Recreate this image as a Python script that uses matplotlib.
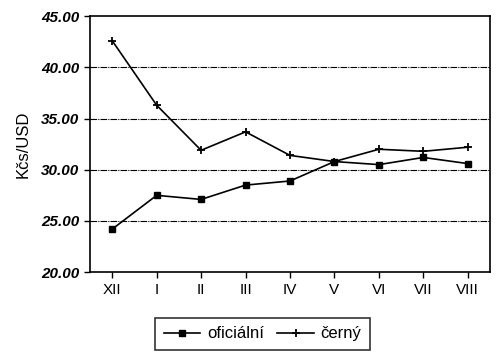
import matplotlib.pyplot as plt

months = ['XII', 'I', 'II', 'III', 'IV', 'V', 'VI', 'VII', 'VIII']
oficialni = [24.2, 27.5, 27.1, 28.5, 28.9, 30.8, 30.5, 31.2, 30.6]
cerny = [42.6, 36.3, 31.9, 33.7, 31.4, 30.8, 32.0, 31.8, 32.2]
y_ticks = [20, 25, 30, 35, 40, 45]

plt.rcParams['font.family'] = ['Liberation Sans', 'DejaVu Sans']

fig = plt.figure(figsize=(5, 3.59), dpi=100)
ax = fig.add_axes([0.18, 0.242, 0.80, 0.713])

x = range(len(months))
ax.plot(x, oficialni, color='black', linewidth=1.2, marker='s', markersize=5, label='oficiální')
ax.plot(x, cerny, color='black', linewidth=1.2, marker='+', markersize=6, markeredgewidth=1.3, label='černý')

for y in y_ticks[1:-1]:
    ax.axhline(y, color='black', linewidth=0.8, linestyle=(0, (6, 1, 1, 1)), zorder=0)

ax.set_xlim(-0.5, 8.5)
ax.set_ylim(20, 45)
ax.set_xticks(list(x))
ax.set_xticklabels(months, fontsize=11)
ax.set_yticks(y_ticks)
ax.set_yticklabels(['%.2f' % v for v in y_ticks], fontsize=11, fontweight='bold', style='italic')
ax.tick_params(direction='out', length=4, width=1)
ax.set_ylabel('Kčs/USD', fontsize=12, labelpad=8)
for s in ax.spines.values():
    s.set_linewidth(1.2)

leg = fig.legend(loc='center', bbox_to_anchor=(0.525, 0.07), ncol=2, fontsize=12,
                 frameon=True, fancybox=False, edgecolor='black', handlelength=2.2,
                 columnspacing=0.8, handletextpad=0.4, borderpad=0.5)
leg.get_frame().set_linewidth(1.2)

fig.savefig('out.png', dpi=100)
